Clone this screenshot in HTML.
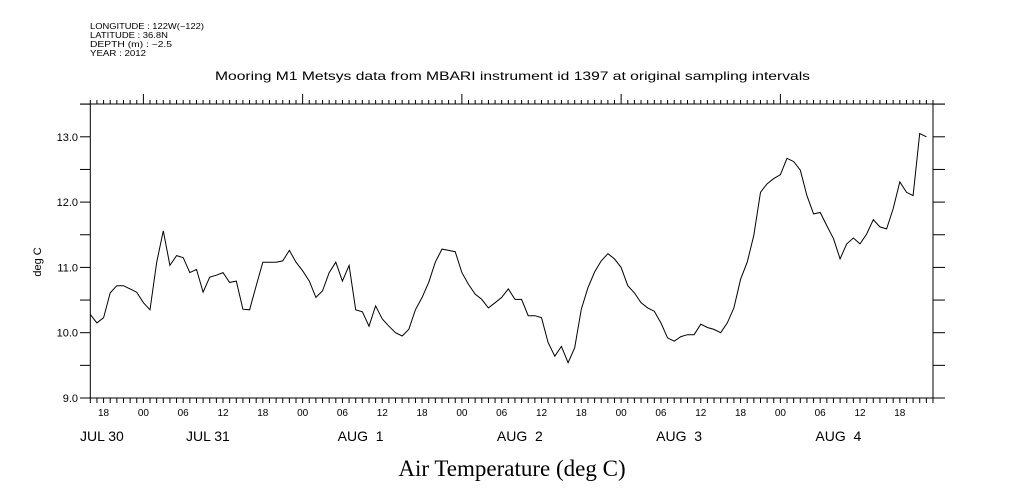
<!DOCTYPE html>
<html><head><meta charset="utf-8"><style>
body{margin:0;background:#fff;}
svg{display:block;font-family:"Liberation Sans",sans-serif;}
</style></head><body>
<svg id="chart" width="1009" height="504" viewBox="0 0 1009 504" xmlns="http://www.w3.org/2000/svg">
<rect width="1009" height="504" fill="#fff"/>
<g font-size="8" fill="#000">
<text x="90" y="29" textLength="114" lengthAdjust="spacingAndGlyphs">LONGITUDE : 122W(−122)</text>
<text x="90" y="38" textLength="78" lengthAdjust="spacingAndGlyphs">LATITUDE : 36.8N</text>
<text x="90" y="47" textLength="82" lengthAdjust="spacingAndGlyphs">DEPTH (m) : −2.5</text>
<text x="90" y="56" textLength="56" lengthAdjust="spacingAndGlyphs">YEAR : 2012</text>
</g>
<text x="215" y="80" textLength="595" lengthAdjust="spacingAndGlyphs" font-size="12">Mooring M1 Metsys data from MBARI instrument id 1397 at original sampling intervals</text>
<text transform="translate(41,262) rotate(-90)" text-anchor="middle" font-size="11">deg C</text>
<text x="512" y="476" text-anchor="middle" font-family="Liberation Serif, serif" font-size="23">Air Temperature (deg C)</text>
<g id="axes"></g>
<g id="series"></g>
</svg>
<script>
const hourLabels = ["18","00","06","12"];
const dateLabels = ["JUL 30","JUL 31","AUG  1","AUG  2","AUG  3","AUG  4"];
const yTicks = [9.0,10.0,11.0,12.0,13.0];
const startHour = 16; // Jul 30 16:00 at left edge
const temps = [10.28,10.15,10.23,10.61,10.72,10.72,10.67,10.62,10.46,10.35,
11.08,11.56,11.03,11.18,11.15,10.92,10.97,10.62,10.85,10.88,
10.92,10.77,10.79,10.36,10.35,10.72,11.08,11.08,11.08,11.10,
11.26,11.08,10.95,10.79,10.54,10.64,10.92,11.08,10.79,11.03,
10.35,10.32,10.10,10.41,10.21,10.10,10.00,9.95,10.05,10.35,
10.54,10.77,11.08,11.28,11.26,11.24,10.92,10.74,10.59,10.51,
10.38,10.46,10.54,10.67,10.51,10.51,10.26,10.26,10.23,9.85,
9.64,9.79,9.54,9.77,10.36,10.69,10.93,11.10,11.21,11.13,
11.00,10.72,10.61,10.46,10.38,10.33,10.15,9.92,9.87,9.94,
9.97,9.97,10.13,10.08,10.05,10.00,10.15,10.38,10.82,11.08,
11.49,12.15,12.28,12.36,12.42,12.67,12.62,12.49,12.10,11.82,
11.84,11.64,11.44,11.13,11.36,11.45,11.36,11.51,11.73,11.62,
11.59,11.90,12.31,12.15,12.10,13.05,13.00];
const NS="http://www.w3.org/2000/svg";
const X0=90.3,X1=933,Y0=104,Y1=398,TOTAL=127;
const xs=h=>X0+(X1-X0)*h/TOTAL;
const ys=v=>398-(v-9)*65.3;
const ax=document.getElementById('axes');
function mk(t,a,p){const e=document.createElementNS(NS,t);for(const k in a)e.setAttribute(k,a[k]);(p||ax).appendChild(e);return e;}
let fr=mk('rect',{x:X0,y:Y0,width:X1-X0,height:Y1-Y0,fill:'none',stroke:'#000','stroke-width':1});


mk('line',{x1:80,y1:Y0,x2:945,y2:Y0,stroke:'#000'});
mk('line',{x1:80,y1:Y1,x2:945,y2:Y1,stroke:'#000'});
for(let h=0;h<=TOTAL;h++){
  const x=xs(h), clock=(startHour+h)%24;
  mk('line',{x1:x,y1:Y0,x2:x,y2:Y0-(clock===0?10:4),stroke:'#000'});
  mk('line',{x1:x,y1:Y1,x2:x,y2:Y1+5,stroke:'#000'});
  if(clock%6===0){
    const t=mk('text',{x:x,y:416,'text-anchor':'middle','font-size':10});
    
    
    t.textContent=hourLabels[[18,0,6,12].indexOf(clock)];
  }
}
dateLabels.forEach((d,i)=>{
  const h=24*i-startHour;
  const t=mk('text',{x:i===0?80:(i===1?186:xs(h)+58),y:441,'text-anchor':i<2?'start':'middle','font-size':14});
  
  
  t.setAttribute('xml:space','preserve');
  t.style.whiteSpace='pre';
  t.textContent=d;
});
for(let v=9;v<=13.5;v+=0.5){
  const y=ys(v);
  mk('line',{x1:80,y1:y,x2:X0,y2:y,stroke:'#000'});
  mk('line',{x1:X1,y1:y,x2:945,y2:y,stroke:'#000'});
}
yTicks.forEach(v=>{
  const t=mk('text',{x:78,y:ys(v)+4,'text-anchor':'end','font-size':11});
  
  
  t.textContent=v.toFixed(1);
});
const pts=temps.map((v,i)=>xs(i).toFixed(1)+','+ys(v).toFixed(1)).join(' ');
const line=mk('polyline',{points:pts,fill:'none',stroke:'#000','stroke-width':1},document.getElementById('series'));


</script>
</body></html>
